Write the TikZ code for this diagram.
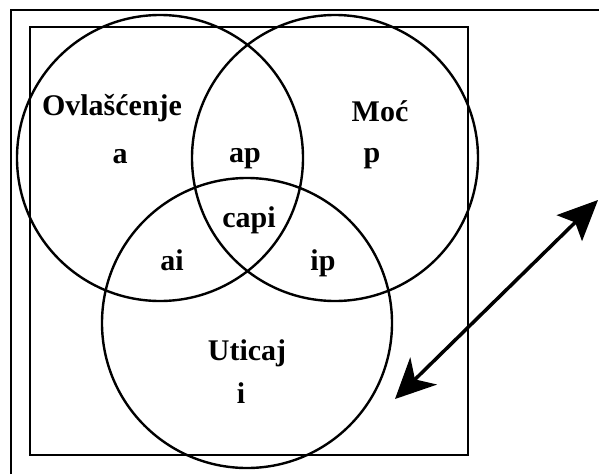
\documentclass[tikz,border=0pt]{standalone}
\usepackage{fontspec}
\setmainfont{Liberation Serif}
\usetikzlibrary{arrows.meta}
\tikzset{
  frame/.style={line width=2.6pt},
  setcircle/.style={line width=2.4pt},
  lbl/.style={font=\fontsize{30}{32}\selectfont\bfseries, anchor=base, inner sep=0pt},
  arr/.style={line width=3.5pt, {Stealth[length=40pt,width=38pt,inset=12pt]}-{Stealth[length=40pt,width=36pt,inset=8pt]}}
}
\begin{document}
\begin{tikzpicture}[x=1pt,y=-1pt]
\useasboundingbox (0,0) rectangle (599,474);
% outer frame (only left and top visible)
\draw[frame] (11,474) -- (11,10) -- (599,10);
% inner square
\draw[frame, line width=2.2pt] (30,27) rectangle (468,455);
% circles
\draw[setcircle] (160,158) circle[radius=143];
\draw[setcircle] (335,158) circle[radius=143];
\draw[setcircle] (247,323) circle[radius=145];
% labels
\node[lbl] (ovl) at (112,115) {Ovlašćenje};
\node[lbl] (a) at (120,163) {a};
\node[lbl] (ap) at (245,162) {ap};
\node[lbl] (moc) at (380,121) {Moć};
\node[lbl] (p) at (372,162) {p};
\node[lbl] (capi) at (249,227) {capi};
\node[lbl] (ai) at (172,270) {ai};
\node[lbl] (ip) at (323,270) {ip};
\node[lbl] (ut) at (247,360) {Uticaj};
\node[lbl] (i) at (241,403) {i};
% arrow
\coordinate (t) at (395,399);
\coordinate (h) at (598,200);
\draw[arr] (t) -- (h);
\end{tikzpicture}
\end{document}
